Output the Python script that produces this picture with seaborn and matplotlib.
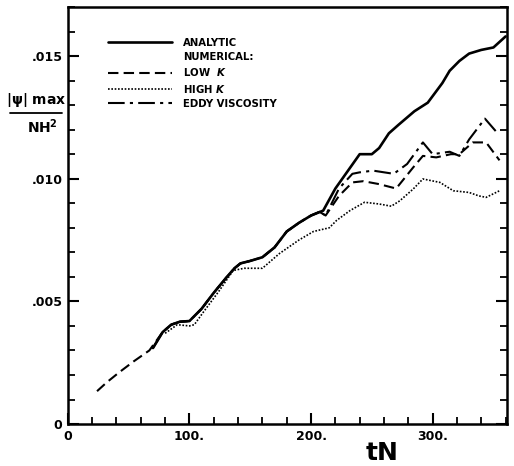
import pandas as pd
import matplotlib.pyplot as plt
import seaborn as sns
from matplotlib.lines import Line2D
from matplotlib.ticker import MultipleLocator

# values
analytic_t = [70, 78, 85, 92, 100, 110, 120, 130, 137, 142, 150, 160, 170, 180, 190, 200, 210,
              220, 230, 240, 250, 256, 264, 272, 285, 296, 308, 314, 322, 330, 340, 350, 360]
analytic = [.0031, .00375, .00405, .00417, .0042, .0047, .00535, .00595, .00635, .00655, .00665,
            .0068, .0072, .00785, .0082, .0085, .0087, .0096, .0103, .011, .011, .01125, .01185,
            .0122, .01275, .0131, .0139, .0144, .0148, .0151, .01525, .01535, .0158]

low_t = [24, 32, 42, 54, 67, 78, 85, 92, 100, 110, 120, 130, 137, 142, 150, 160, 170, 180, 190,
         200, 207, 212, 223, 234, 243, 256, 270, 284, 292, 303, 315, 322, 333, 344, 355]
low_k = [.00134, .0017, .0021, .00255, .003, .00375, .00405, .00417, .0042, .0047, .00535, .00595,
         .00635, .00655, .00665, .0068, .0072, .00785, .0082, .0085, .00865, .0085, .0093, .00985,
         .0099, .00978, .0096, .01046, .01093, .01087, .011, .011, .01148, .01148, .01075]

high_t = [80, 90, 100, 104, 112, 124, 136, 145, 160, 174, 190, 202, 215, 221, 232, 244, 256, 266,
          273, 284, 292, 306, 317, 330, 338, 344, 355]
high_k = [.0037, .00405, .004, .00405, .0046, .0054, .00626, .00635, .00635, .00695, .0075, .00785,
          .008, .0083, .0087, .00904, .00897, .00888, .0091, .00958, .00999, .00985, .00951, .00944,
          .0093, .00924, .00951]

eddy_t = [70, 78, 85, 92, 100, 110, 120, 130, 137, 142, 150, 160, 170, 180, 190, 200, 207, 212,
          223, 234, 240, 251, 268, 279, 292, 300, 314, 322, 330, 343, 354]
eddy = [.0031, .00375, .00405, .00417, .0042, .0047, .00535, .00595, .00635, .00655, .00665, .0068,
        .0072, .00785, .0082, .0085, .00865, .0085, .0096, .0102, .01026, .01033, .0102, .0106,
        .01148, .011, .0111, .01093, .0116, .01245, .01182]

x_ticks = [0, 100, 200, 300]
x_labels = ['0', '100.', '200.', '300.']
y_ticks = [0, .005, .010, .015]
y_labels = ['0', '.005', '.010', '.015']

sns.set_style('white')
plt.rcParams['font.family'] = ['DejaVu Sans']
plt.rcParams['text.color'] = 'black'
plt.rcParams['xtick.color'] = 'black'
plt.rcParams['ytick.color'] = 'black'

fig = plt.figure(figsize=(5.14, 4.66), dpi=100)
ax = fig.add_axes([0.132, 0.090, 0.854, 0.895])

sns.lineplot(x=analytic_t, y=analytic, ax=ax, color='black', lw=1.9, label='ANALYTIC')
sns.lineplot(x=low_t, y=low_k, ax=ax, color='black', lw=1.5, label='LOW  $\\mathbfit{K}$',
             linestyle=(0, (5, 2.5)))
sns.lineplot(x=high_t, y=high_k, ax=ax, color='black', lw=1.2, label='HIGH $\\mathbfit{K}$',
             linestyle=(0, (1, 1)))
sns.lineplot(x=eddy_t, y=eddy, ax=ax, color='black', lw=1.5, label='EDDY VISCOSITY',
             linestyle=(0, (8, 2.5, 1.5, 2.5)))

ax.set_xlim(0, 361)
ax.set_ylim(0, 0.017)
ax.set_xticks(x_ticks, x_labels)
ax.set_yticks(y_ticks, y_labels)
ax.xaxis.set_minor_locator(MultipleLocator(20))
ax.yaxis.set_minor_locator(MultipleLocator(0.001))
ax.tick_params(which='both', direction='in', left=True, right=True, bottom=True, top=False,
               labelsize=9, pad=4)
ax.tick_params(which='major', length=8, width=1.5)
ax.tick_params(which='minor', length=5, width=1.3)
for lab in ax.get_xticklabels() + ax.get_yticklabels():
    lab.set_fontweight('bold')
for s in ax.spines.values():
    s.set_linewidth(1.8)
    s.set_color('black')

handles, labels = ax.get_legend_handles_labels()
blank = Line2D([], [], color='none')
handles = [handles[0], blank] + handles[1:]
labels = [labels[0], 'NUMERICAL:'] + labels[1:]
ax.legend(handles, labels, loc='upper left', bbox_to_anchor=(0.07, 0.948), frameon=False,
          handlelength=6.3, handletextpad=1.1, labelspacing=0.42,
          prop={'weight': 'bold', 'size': 7.3})

fig.text(0.07, 1 - 100 / 466, r'$\mathbf{|\psi|}$ max', ha='center', va='center',
         fontsize=10, fontweight='bold')
fig.add_artist(Line2D([0.02, 0.121], [1 - 113 / 466] * 2, color='black', lw=1.3))
fig.text(0.083, 1 - 127 / 466, 'NH$^\\mathbf{2}$', ha='center', va='center',
         fontsize=10, fontweight='bold')
fig.text(0.743, 1 - 453 / 466, 'tN', ha='center', va='center', fontsize=18, fontweight='bold')

fig.savefig('out.png', dpi=100)
